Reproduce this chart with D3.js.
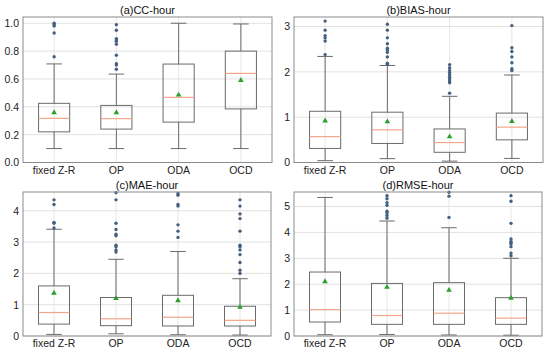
<!DOCTYPE html>
<html><head><meta charset="utf-8">
<script src="https://cdn.jsdelivr.net/npm/d3@7"></script>
<style>
html,body{margin:0;padding:0;background:#fff;}
svg{display:block;font-family:"Liberation Sans",Arial,sans-serif;}
</style></head>
<body>
<svg id="chart" width="550" height="354"></svg>
<script>
const categories = ["fixed Z-R", "OP", "ODA", "OCD"];

// [whisker low, Q1, median, Q3, whisker high]
const ccBox = [[0.10,0.22,0.317,0.425,0.708],[0.10,0.24,0.315,0.41,0.635],[0.10,0.29,0.468,0.707,1.0],[0.10,0.385,0.64,0.80,0.995]];
const ccMean = [0.358,0.358,0.485,0.59];
const ccOutliers = [[0.76,0.93,0.98,0.99,1.0],[0.67,0.70,0.71,0.77,0.85,0.87,0.88,0.89,0.95,0.99],[],[]];
const ccTicks = [0,0.2,0.4,0.6,0.8,1.0];

const biasBox = [[0.04,0.31,0.57,1.13,2.34],[0.085,0.42,0.72,1.11,2.14],[0.03,0.225,0.44,0.74,1.46],[0.09,0.50,0.78,1.09,1.93]];
const biasMean = [0.92,0.90,0.57,0.91];
const biasOutliers = [[2.38,2.68,2.75,2.80,2.92,3.12],[2.17,2.19,2.33,2.43,2.48,2.52,2.62,2.75,2.92,3.05],[1.53,1.76,1.80,1.84,1.88,1.93,1.98,2.03,2.09,2.16],[2.03,2.07,2.20,2.33,2.45,2.53,3.02]];
const biasTicks = [0,1,2,3];

const maeBox = [[0.05,0.38,0.75,1.6,3.41],[0.07,0.33,0.55,1.23,2.45],[0.04,0.32,0.60,1.30,2.70],[0.03,0.32,0.50,0.95,1.83]];
const maeMean = [1.37,1.20,1.13,0.92];
const maeOutliers = [[3.45,3.60,3.63,4.20,4.35],[2.68,2.75,2.85,2.90,3.20,3.25,3.40,3.60,4.35,4.58],[3.15,3.35,3.55,4.15,4.20,4.50,4.55],[2.0,2.1,2.35,2.6,2.75,2.85,2.9,3.35,3.75,3.9,4.15,4.35]];
const maeTicks = [0,1,2,3,4];

const rmseBox = [[0.05,0.54,1.02,2.47,5.35],[0.06,0.45,0.79,2.03,4.44],[0.04,0.45,0.88,2.06,4.18],[0.03,0.45,0.69,1.48,3.0]];
const rmseMean = [2.10,1.89,1.77,1.46];
const rmseOutliers = [[],[4.55,4.65,4.75,4.82,5.05,5.15,5.30,5.42],[4.58,5.40,5.55],[3.10,3.20,3.45,3.55,3.60,3.65,3.75,4.35,5.20,5.42]];
const rmseTicks = [0,1,2,3,4,5];

const panels = [
  {title:"(a)CC-hour", box:ccBox, mean:ccMean, out:ccOutliers, ticks:ccTicks, fmt:d3.format(".1f"), ymax:1.045, x0:23, x1:272, y0:17, y1:162.5},
  {title:"(b)BIAS-hour", box:biasBox, mean:biasMean, out:biasOutliers, ticks:biasTicks, fmt:d3.format("d"), ymax:3.21, x0:294, x1:543, y0:17, y1:162.5},
  {title:"(c)MAE-hour", box:maeBox, mean:maeMean, out:maeOutliers, ticks:maeTicks, fmt:d3.format("d"), ymax:4.6, x0:23, x1:271, y0:192, y1:336},
  {title:"(d)RMSE-hour", box:rmseBox, mean:rmseMean, out:rmseOutliers, ticks:rmseTicks, fmt:d3.format("d"), ymax:5.56, x0:294, x1:542, y0:192, y1:336}
];

const svg = d3.select("#chart");
const boxColor = "#6b6b6b";

panels.forEach(p => {
  const g = svg.append("g");
  const x = d3.scaleBand().domain(categories).range([p.x0, p.x1]).paddingInner(0).paddingOuter(0);
  const y = d3.scaleLinear().domain([0, p.ymax]).range([p.y1, p.y0]);
  const bw = x.bandwidth() * 0.5;
  const cx = c => x(c) + x.bandwidth()/2;

  // grid
  const grid = g.append("g");
  grid.selectAll("line.h").data(p.ticks).join("line")
    .attr("x1", p.x0).attr("x2", p.x1)
    .attr("y1", d => y(d)).attr("y2", d => y(d))
    .attr("stroke", "#e2e2e2").attr("stroke-width", 1);
  grid.selectAll("line.v").data(categories).join("line")
    .attr("x1", d => cx(d)).attr("x2", d => cx(d))
    .attr("y1", p.y0).attr("y2", p.y1)
    .attr("stroke", "#e6e6e6").attr("stroke-width", 1);

  // axes
  const yAxis = d3.axisLeft(y).tickValues(p.ticks).tickFormat(p.fmt).tickSize(0).tickPadding(4);
  const ya = g.append("g").attr("transform", `translate(${p.x0},0)`).call(yAxis);
  ya.select(".domain").remove();
  ya.selectAll("text").attr("font-size", 10.5).attr("fill", "#222").attr("font-family", "Liberation Sans, Arial, sans-serif");

  const xAxis = d3.axisBottom(x).tickSize(0).tickPadding(4);
  const xa = g.append("g").attr("transform", `translate(0,${p.y1})`).call(xAxis);
  xa.select(".domain").remove();
  xa.selectAll("text").attr("font-size", 10.5).attr("fill", "#222").attr("font-family", "Liberation Sans, Arial, sans-serif");

  // boxes
  categories.forEach((c, i) => {
    const [lo, q1, med, q3, hi] = p.box[i];
    const xc = cx(c);
    const bg = g.append("g");
    bg.append("line").attr("x1", xc).attr("x2", xc).attr("y1", y(q1)).attr("y2", y(lo)).attr("stroke", boxColor);
    bg.append("line").attr("x1", xc).attr("x2", xc).attr("y1", y(q3)).attr("y2", y(hi)).attr("stroke", boxColor);
    bg.append("line").attr("x1", xc - bw/4).attr("x2", xc + bw/4).attr("y1", y(lo)).attr("y2", y(lo)).attr("stroke", boxColor);
    bg.append("line").attr("x1", xc - bw/4).attr("x2", xc + bw/4).attr("y1", y(hi)).attr("y2", y(hi)).attr("stroke", boxColor);
    bg.append("rect").attr("x", xc - bw/2).attr("width", bw)
      .attr("y", y(q3)).attr("height", y(q1) - y(q3))
      .attr("fill", "none").attr("stroke", boxColor);
    bg.append("line").attr("x1", xc - bw/2).attr("x2", xc + bw/2).attr("y1", y(med)).attr("y2", y(med))
      .attr("stroke", "#f2a68a").attr("stroke-width", 1.2);
    bg.selectAll("circle").data(p.out[i]).join("circle")
      .attr("cx", xc).attr("cy", d => y(d)).attr("r", 1.7).attr("fill", "#44607e");
    bg.append("path").attr("d", d3.symbol(d3.symbolTriangle, 14)())
      .attr("transform", `translate(${xc},${y(p.mean[i])})`).attr("fill", "#2ca02c");
  });

  // frame
  g.append("rect").attr("x", p.x0).attr("y", p.y0).attr("width", p.x1 - p.x0).attr("height", p.y1 - p.y0)
    .attr("fill", "none").attr("stroke", "#8c8c8c").attr("stroke-width", 1);

  // title
  g.append("text").attr("x", (p.x0 + p.x1)/2).attr("y", p.y0 - 3.5).attr("text-anchor", "middle")
    .attr("font-size", 11).attr("fill", "#111").text(p.title);
});
</script>
</body></html>
